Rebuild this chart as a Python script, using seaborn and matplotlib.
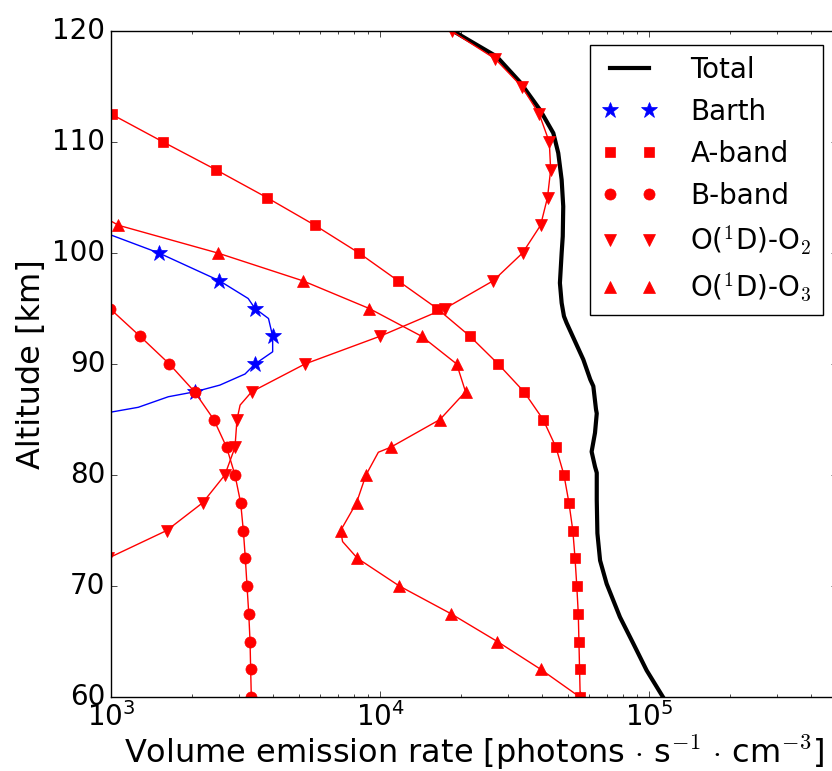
import matplotlib
matplotlib.use("Agg")
import matplotlib.pyplot as plt
import seaborn as sns
import numpy as np

# ---------------- data (altitude in km, emission in photons s^-1 cm^-3) ----------------
total_alt = [120, 117.7, 115.4, 112.9, 110.8, 109.0, 106.6, 104.2, 101.5, 100.0, 97.3,
             95.5, 94.3, 93.7, 90.4, 88.6, 88.0, 85.9, 85.55, 83.8, 82.1, 80.75, 80.2,
             77.75, 74.75, 72.3, 70.2, 67.2, 64.8, 62.4, 60]
total_val = [18700, 27150, 33150, 39330, 44100, 46000, 47350, 48000, 47800, 47350, 46650,
             47350, 48300, 49400, 57000, 60500, 62100, 63550, 63950, 63000, 61200, 63000, 63950,
             63950, 64300, 65800, 69600, 78000, 87500, 98000, 112700]

barth_alt = [102.5, 100, 97.5, 95.9, 95, 94.1, 92.5, 91.1, 90, 89.1, 88.1, 87.5, 87.05, 86.1, 85]
barth_val = [800, 1507, 2530, 3236, 3430, 3850, 3990, 3990, 3430, 3150, 2540, 2052, 1633, 1263, 700]

aband_alt = [112.5, 110, 107.5, 105, 102.5, 100, 97.5, 95, 92.5, 90, 87.5, 85, 82.5, 80,
             77.5, 75, 72.5, 70, 67.5, 65, 62.5, 60]
aband_val = [1005, 1563, 2455, 3793, 5728, 8356, 11670, 16300, 21600, 27500, 34300, 40400,
             45100, 48300, 50400, 52100, 53100, 53900, 54600, 54900, 55200, 55500]

bband_alt = [95, 92.5, 90, 87.5, 85, 82.5, 80, 77.5, 75, 72.5, 70, 67.5, 65, 62.5, 60]
bband_val = [990, 1282, 1648, 2045, 2410, 2690, 2890, 3034, 3104, 3158, 3204, 3252, 3288,
             3305, 3324]

o2_alt = [120, 117.5, 115, 112.5, 110, 107.5, 105, 102.5, 100, 97.5, 95, 92.5, 90, 87.5,
          86.3, 85, 82.5, 80, 77.5, 75, 72.5]
o2_val = [18450, 26770, 33650, 39100, 42600, 43100, 41950, 39540, 33880, 26360, 17440, 10000,
          5260, 3334, 3020, 2940, 2890, 2650, 2192, 1611, 975]

o3_alt = [105, 102.5, 100, 97.5, 95, 92.5, 90, 87.5, 85, 82.5, 82.05, 80, 77.5, 75, 74.0,
          72.5, 70, 67.5, 65, 62.5, 60]
o3_val = [700, 1065, 2493, 5160, 9120, 14280, 19280, 20800, 16710, 10960, 9860, 8870, 8180,
          7140, 7260, 8240, 11800, 18360, 27300, 39540, 55300]

series_names = ["Barth", "A-band", "B-band", "O($^1$D)-O$_2$", "O($^1$D)-O$_3$"]
series_alt = [barth_alt, aband_alt, bband_alt, o2_alt, o3_alt]
series_val = [barth_val, aband_val, bband_val, o2_val, o3_val]
series_col = ["blue", "red", "red", "red", "red"]
series_mark = ["*", "s", "o", "v", "^"]
series_ms = [12, 7.5, 8, 8, 8]

x_ticks = [1e3, 1e4, 1e5]
y_ticks = [60, 70, 80, 90, 100, 110, 120]

# ---------------- style ----------------
plt.style.use("classic")
plt.rcParams.update({
    "font.size": 20,
    "figure.facecolor": "white",
    "savefig.facecolor": "white",
    "legend.numpoints": 2,
    "mathtext.fontset": "cm",
})

fig = plt.figure(figsize=(8.32, 7.71), dpi=100)
ax = fig.add_axes([111 / 832, 74 / 771, (837 - 111) / 832, 666 / 771])

sns.lineplot(x=total_val, y=total_alt, sort=False, estimator=None, color="black",
             lw=3, ax=ax, label="Total")

for name, alts, vals, col, mk, ms in zip(series_names, series_alt, series_val,
                                         series_col, series_mark, series_ms):
    sns.lineplot(x=vals, y=alts, sort=False, estimator=None, color=col, lw=1, ax=ax)
    mask = [abs(a / 2.5 - round(a / 2.5)) < 1e-6 for a in alts]
    ma = [a for a, m in zip(alts, mask) if m]
    mv = [v for v, m in zip(vals, mask) if m]
    sns.lineplot(x=mv, y=ma, sort=False, estimator=None, color=col, linestyle="",
                 marker=mk, markersize=ms, markeredgecolor=col, markeredgewidth=0.5,
                 ax=ax, label=name)

ax.set_xscale("log")
ax.set_xlim(1e3, 5e5)
ax.set_ylim(60, 120)
ax.set_xticks(x_ticks)
ax.set_yticks(y_ticks)
ax.set_xlabel(r"Volume emission rate [photons $\cdot$ s$^{-1}$ $\cdot$ cm$^{-3}$]",
              fontsize=23, labelpad=1)
ax.set_ylabel("Altitude [km]", fontsize=23, labelpad=4)

ax.legend(loc="upper right", numpoints=2, handlelength=2.0, handletextpad=1.2,
          fontsize=20)

fig.savefig("out.png", dpi=100)
